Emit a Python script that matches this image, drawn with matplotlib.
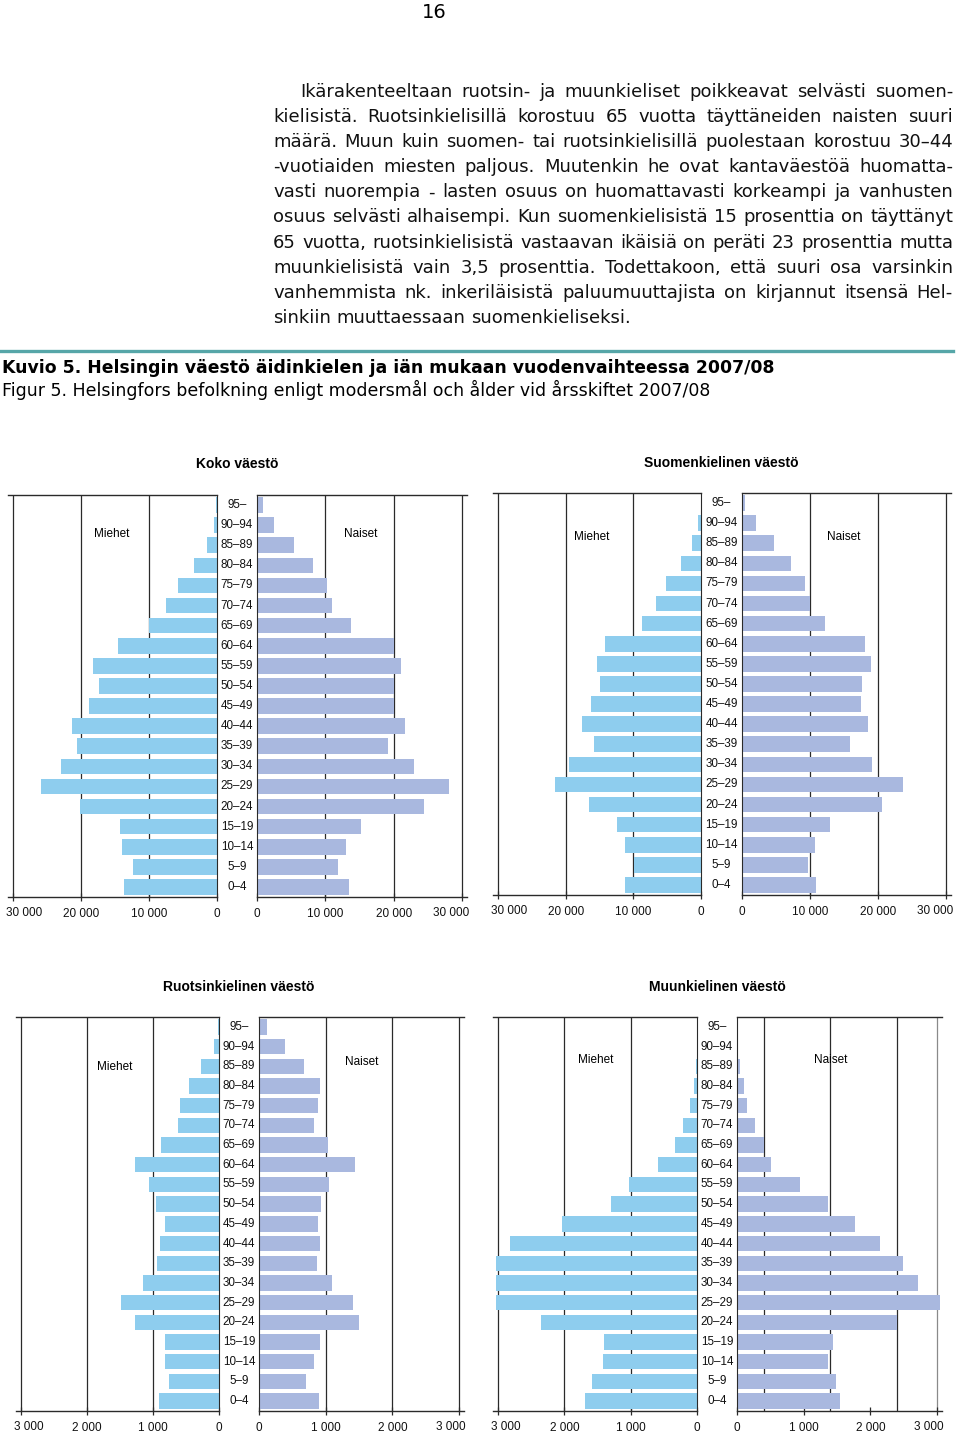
import matplotlib
matplotlib.use("Agg")
import matplotlib.pyplot as plt
import matplotlib.transforms as mtransforms

W, H = 960, 1450

# Age groups, bottom to top
ages = ['0–4', '5–9', '10–14', '15–19', '20–24', '25–29', '30–34', '35–39',
        '40–44', '45–49', '50–54', '55–59', '60–64', '65–69', '70–74',
        '75–79', '80–84', '85–89', '90–94', '95–']

# Koko väestö (bottom to top)
koko_men = [13690, 12360, 13990, 14330, 20100, 25910, 23000, 20590, 21380, 18870,
            17290, 18180, 14630, 10000, 7490, 5700, 3350, 1480, 400, 100]
koko_women = [13460, 11850, 13020, 15270, 24390, 28050, 22930, 19220, 21610, 20000,
              20000, 21070, 20000, 13760, 10980, 10290, 8200, 5460, 2540, 830]

# Suomenkielinen väestö
fi_men = [11300, 9970, 11300, 12480, 16580, 21510, 19540, 15790, 17660, 16330,
          15000, 15390, 14210, 8730, 6660, 5180, 2910, 1280, 400, 50]
fi_women = [10930, 9710, 10780, 12890, 20590, 23630, 19170, 15930, 18580, 17550,
            17700, 19020, 18040, 12250, 9950, 9220, 7250, 4750, 2110, 490]

# Ruotsinkielinen väestö
sv_men = [916, 755, 820, 820, 1273, 1485, 1147, 941, 896, 820,
          961, 1062, 1273, 886, 619, 594, 458, 277, 75, 10]
sv_women = [895, 710, 830, 920, 1505, 1410, 1090, 870, 910, 890,
            935, 1055, 1435, 1040, 830, 880, 910, 670, 395, 125]

# Muunkielinen väestö
other_men = [1683, 1578, 1417, 1407, 2347, 3035, 3035, 3035, 2824, 2040,
             1296, 1030, 593, 332, 211, 105, 50, 10, 5, 3]
other_women = [1540, 1485, 1370, 1445, 2400, 3050, 2720, 2490, 2150, 1765,
               1370, 945, 510, 405, 275, 150, 100, 50, 20, 20]

body_lines = [
    "Ikärakenteeltaan ruotsin- ja muunkieliset poikkeavat selvästi suomen-",
    "kielisistä. Ruotsinkielisillä korostuu 65 vuotta täyttäneiden naisten suuri",
    "määrä. Muun kuin suomen- tai ruotsinkielisillä puolestaan korostuu 30–44",
    "-vuotiaiden miesten paljous. Muutenkin he ovat kantaväestöä huomatta-",
    "vasti nuorempia - lasten osuus on huomattavasti korkeampi ja vanhusten",
    "osuus selvästi alhaisempi. Kun suomenkielisistä 15 prosenttia on täyttänyt",
    "65 vuotta, ruotsinkielisistä vastaavan ikäisiä on peräti 23 prosenttia mutta",
    "muunkielisistä vain 3,5 prosenttia. Todettakoon, että suuri osa varsinkin",
    "vanhemmista nk. inkeriläisistä paluumuuttajista on kirjannut itsensä Hel-",
    "sinkiin muuttaessaan suomenkieliseksi.",
]

MEN_COLOR = '#8ecdee'
WOMEN_COLOR = '#a9b8df'
LINE = '#2a2a2a'
CHART_FONT = 'Liberation Sans'

fig = plt.figure(figsize=(W / 100, H / 100), dpi=100)
renderer = fig.canvas.get_renderer()


def fx(x):
    return x / W


def fy(y):
    return 1 - y / H


def px_axes(x0, x1, ytop, ybot):
    return fig.add_axes([fx(x0), fy(ybot), (x1 - x0) / W, (ybot - ytop) / H])


def fmt(v):
    return f"{v:,}".replace(",", " ")


def pyramid(title, men, women, xmax, step, lpx, rpx, ytop, ybot, title_y,
            miehet_xy, naiset_xy, right_grid=None):
    ext = 5
    # lpx = (pixel of xmax, pixel of 0) on the left, rpx = (pixel of 0, pixel of xmax)
    scale_l = xmax / (lpx[1] - lpx[0])
    scale_r = xmax / (rpx[1] - rpx[0])
    axl = px_axes(lpx[0] - ext, lpx[1], ytop, ybot)
    axr = px_axes(rpx[0], rpx[1] + ext, ytop, ybot)
    ticks = list(range(0, xmax + 1, step))
    y = list(range(len(ages)))

    axl.barh(y, men, height=0.78, color=MEN_COLOR, zorder=2)
    axr.barh(y, women, height=0.78, color=WOMEN_COLOR, zorder=2)
    axl.set_xlim(xmax + ext * scale_l, 0)
    axr.set_xlim(0, xmax + ext * scale_r)

    grids = {axl: ticks[1:], axr: right_grid if right_grid else ticks[1:]}
    for ax in (axl, axr):
        ax.set_ylim(-0.5, len(ages) - 0.5)
        ax.set_yticks([])
        ax.set_xticks(ticks)
        # outermost label is placed by hand, pulled inside the page
        ax.set_xticklabels([fmt(t) for t in ticks[:-1]] + [''], fontfamily=CHART_FONT)
        ax.tick_params(axis='x', direction='inout', length=6, width=0.9,
                       color=LINE, labelsize=8.5, pad=5, labelcolor='#111111')
        for g in grids[ax]:
            c = '#8a8a8a' if (right_grid and ax is axr and g == xmax) else LINE
            ax.axvline(g, color=c, lw=0.9, zorder=1)
        for side in ('top', 'bottom'):
            ax.spines[side].set_color(LINE)
            ax.spines[side].set_linewidth(1.0)
    axl.spines['left'].set_visible(False)
    axl.spines['right'].set_color(LINE)
    axr.spines['right'].set_visible(False)
    axr.spines['left'].set_color(LINE)

    label_y = ybot + 16
    fig.text(fx(lpx[0] - 7), fy(label_y), fmt(xmax), ha='left', va='center',
             fontsize=8.5, fontfamily=CHART_FONT, color='#111111')
    fig.text(fx(rpx[1] + 7), fy(label_y), fmt(xmax), ha='right', va='center',
             fontsize=8.5, fontfamily=CHART_FONT, color='#111111')

    cx = (lpx[1] + rpx[0]) / 2
    trans = mtransforms.blended_transform_factory(fig.transFigure, axl.transData)
    for i, a in enumerate(ages):
        fig.text(fx(cx), i, a, transform=trans, ha='center', va='center',
                 fontsize=8.4, fontfamily=CHART_FONT, color='#111111')

    fig.text(fx(cx), fy(title_y), title, ha='center', va='center',
             fontsize=10, fontweight='bold', fontfamily=CHART_FONT)
    fig.text(fx(miehet_xy[0]), fy(miehet_xy[1]), 'Miehet', ha='center', va='center',
             fontsize=8.5, fontfamily=CHART_FONT)
    fig.text(fx(naiset_xy[0]), fy(naiset_xy[1]), 'Naiset', ha='center', va='center',
             fontsize=8.5, fontfamily=CHART_FONT)


pyramid('Koko väestö', koko_men, koko_women, 30000, 10000,
        (13, 217), (257, 462), 495, 897, 464, (112, 534), (361, 534))
pyramid('Suomenkielinen väestö', fi_men, fi_women, 30000, 10000,
        (498, 701), (742, 946), 493, 895, 463, (592, 537), (844, 537))
pyramid('Ruotsinkielinen väestö', sv_men, sv_women, 3000, 1000,
        (21, 219), (259, 459), 1017, 1411, 987, (115, 1067), (362, 1062))
pyramid('Muunkielinen väestö', other_men, other_women, 3000, 1000,
        (498, 697), (737, 937), 1017, 1411, 987, (596, 1060), (831, 1060),
        right_grid=[400, 1400, 2400, 3000])

# Page number
fig.text(fx(434), fy(12), '16', ha='center', va='center', fontsize=14,
         fontfamily='DejaVu Sans')

# Body text, justified
BODY_SIZE = 13.0
space_w = (fig.text(0, 0, 'a a', fontsize=BODY_SIZE).get_window_extent(renderer).width
           - fig.text(0, 0, 'aa', fontsize=BODY_SIZE).get_window_extent(renderer).width)
for t in fig.texts[-2:]:
    t.set_visible(False)

line_y = 92
for n, line in enumerate(body_lines):
    x0 = 300 if n == 0 else 273
    x1 = 953
    words = line.split(' ')
    texts = [fig.text(0, fy(line_y), w, ha='left', va='center', fontsize=BODY_SIZE,
                      fontfamily='DejaVu Sans', color='#111111') for w in words]
    widths = [t.get_window_extent(renderer).width for t in texts]
    if n == len(body_lines) - 1:
        gap = space_w
    else:
        gap = (x1 - x0 - sum(widths)) / (len(words) - 1)
    x = x0
    for t, w in zip(texts, widths):
        t.set_x(fx(x))
        x += w + gap
    line_y += 25.1

# Teal rule and caption
fig.add_artist(plt.Line2D([0, fx(953)], [fy(351), fy(351)], color='#56a6a8', lw=2.4))
fig.text(fx(2), fy(368), 'Kuvio 5. Helsingin väestö äidinkielen ja iän mukaan vuodenvaihteessa 2007/08',
         ha='left', va='center', fontsize=12.4, fontweight='bold', fontfamily='DejaVu Sans')
fig.text(fx(2), fy(390), 'Figur 5. Helsingfors befolkning enligt modersmål och ålder vid årsskiftet 2007/08',
         ha='left', va='center', fontsize=12.5, fontfamily='DejaVu Sans')

fig.savefig('out.png', dpi=100)
